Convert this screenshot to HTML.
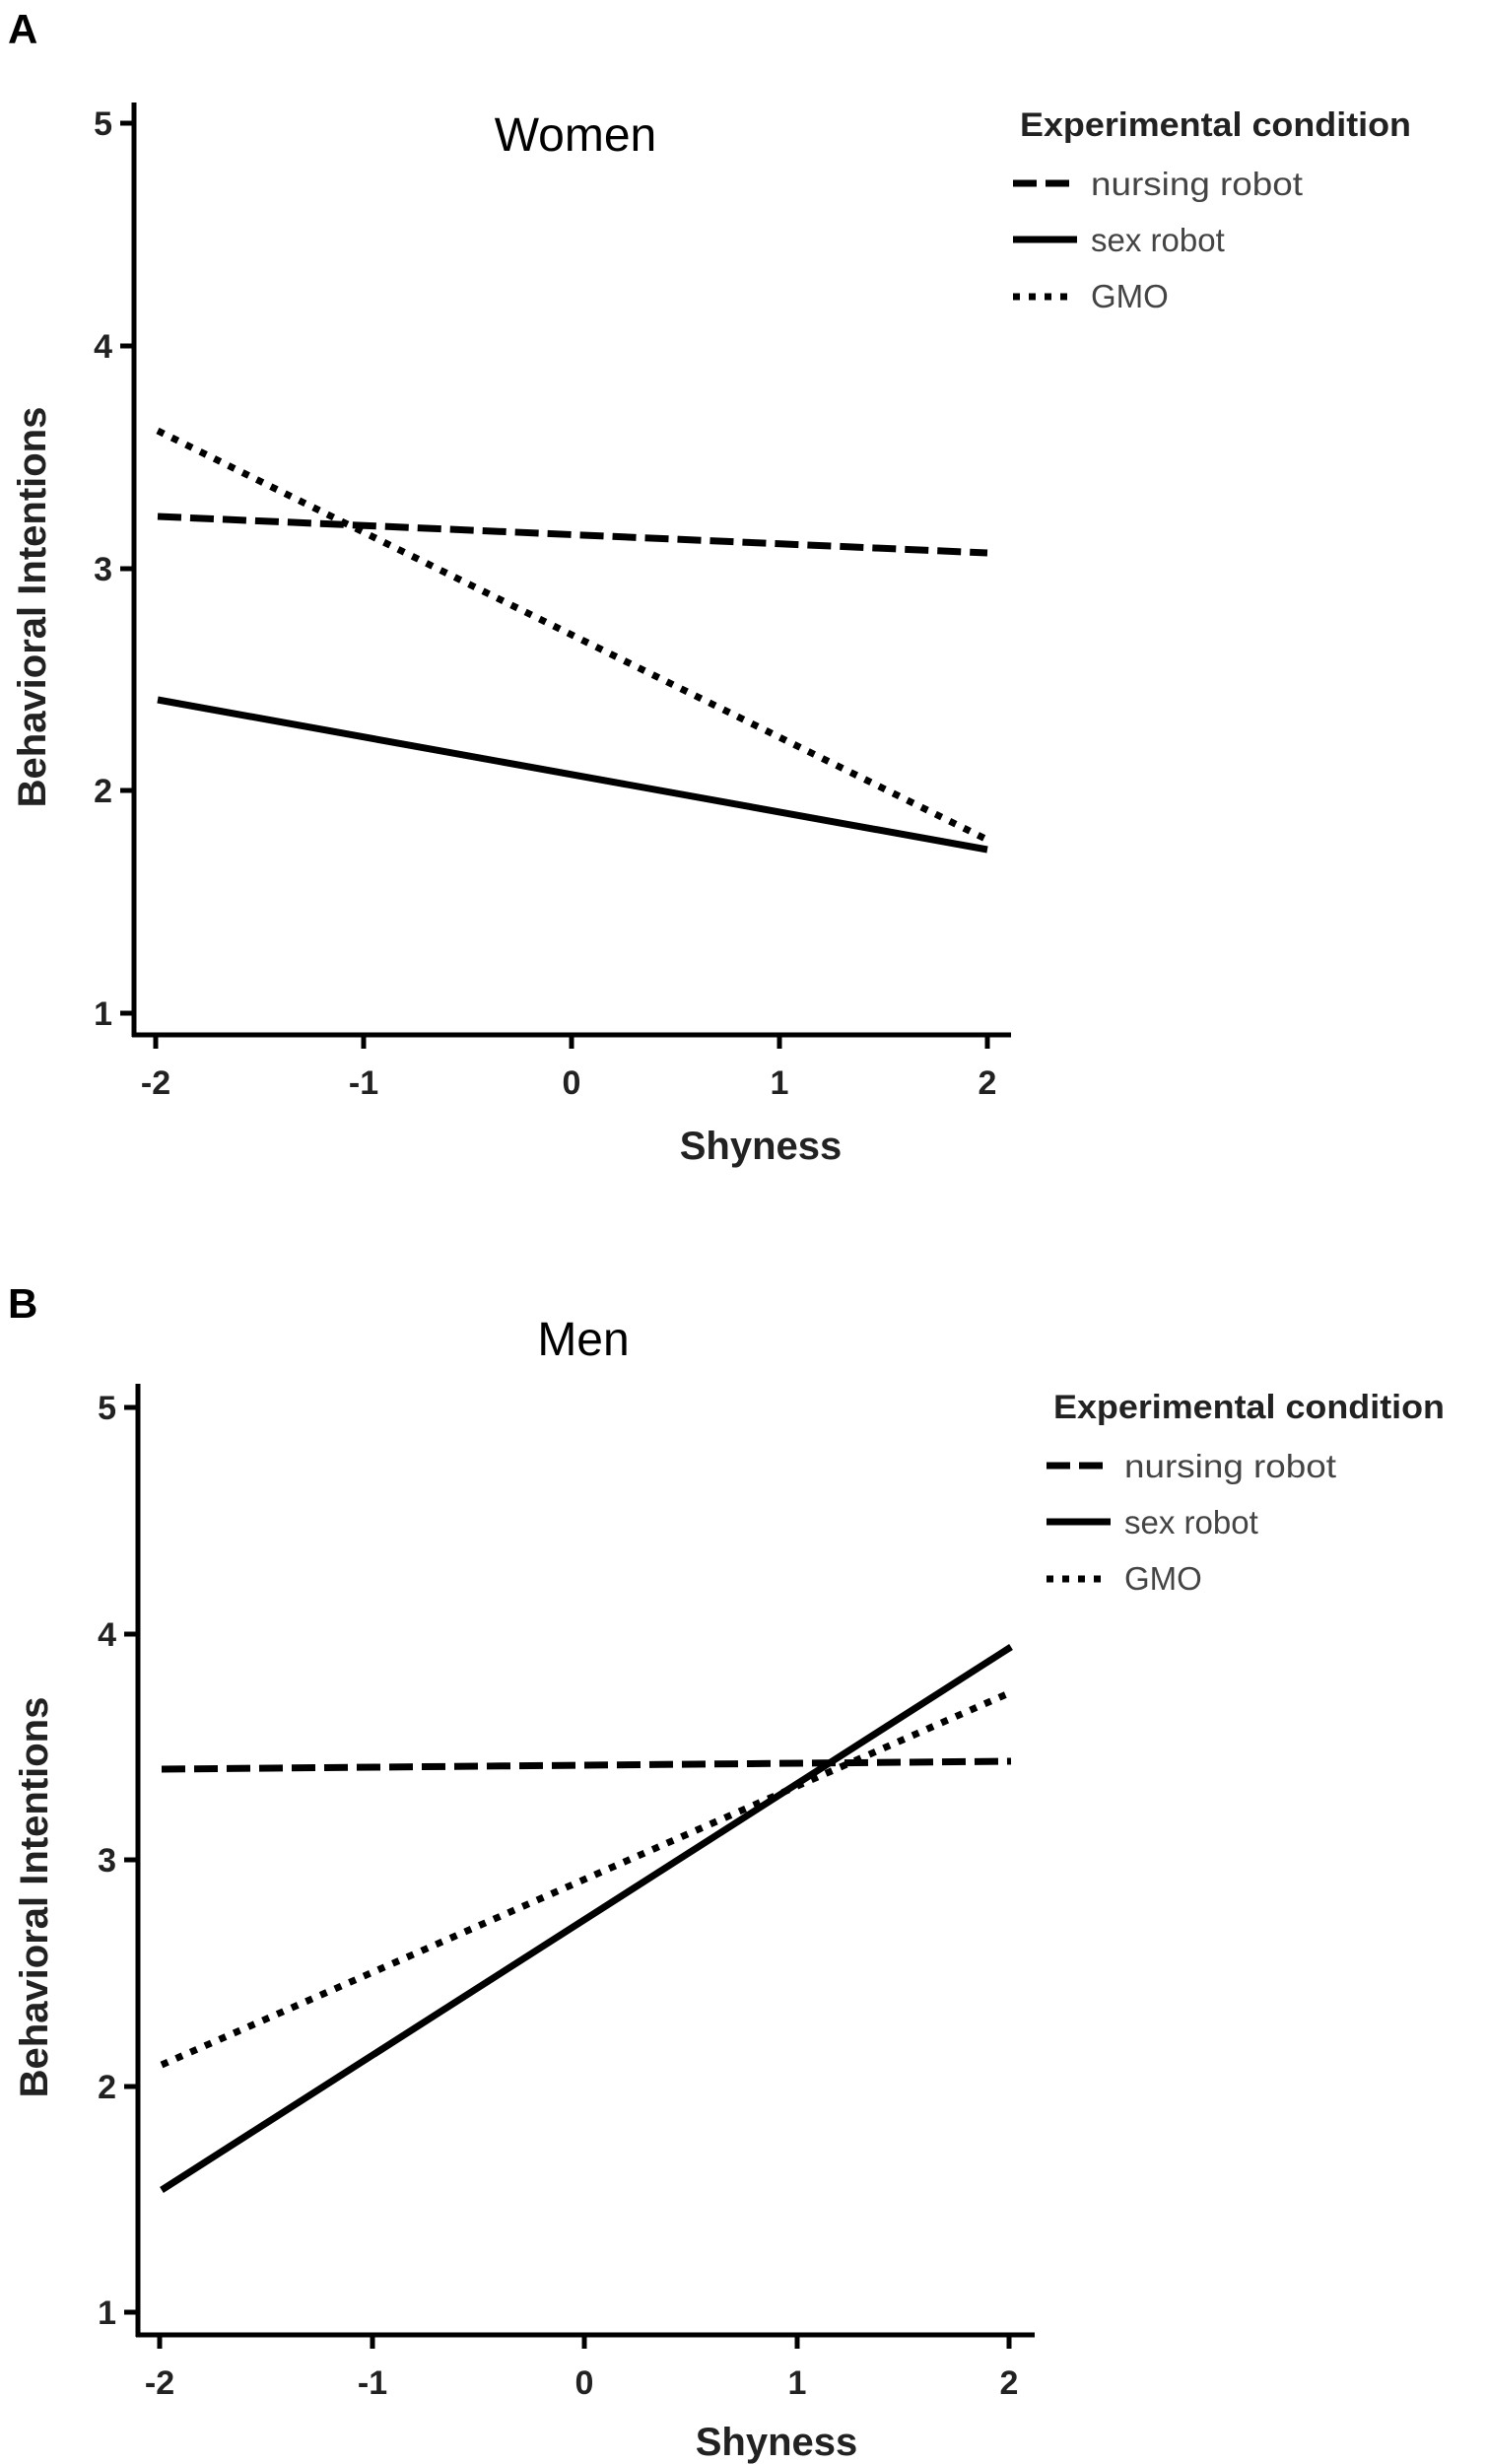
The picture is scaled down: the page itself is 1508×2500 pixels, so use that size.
<!DOCTYPE html>
<html><head><meta charset="utf-8"><style>
html,body{margin:0;padding:0;background:#fff;}
svg{display:block;}
text{font-family:"Liberation Sans",Arial,sans-serif;}
</style></head><body>
<svg width="1508" height="2500" viewBox="0 0 1508 2500" xmlns="http://www.w3.org/2000/svg">
<!-- Panel A -->
<text x="8" y="44" font-size="42" font-weight="bold">A</text>
<text x="584" y="153" font-size="48" text-anchor="middle">Women</text>
<g stroke="#000" stroke-width="5" fill="none">
<line x1="136" y1="104" x2="136" y2="1052"/>
<line x1="134" y1="1050" x2="1026" y2="1050"/>
<line x1="122" y1="125" x2="136" y2="125"/>
<line x1="122" y1="351" x2="136" y2="351"/>
<line x1="122" y1="577" x2="136" y2="577"/>
<line x1="122" y1="802" x2="136" y2="802"/>
<line x1="122" y1="1028" x2="136" y2="1028"/>
<line x1="158" y1="1050" x2="158" y2="1064"/>
<line x1="369" y1="1050" x2="369" y2="1064"/>
<line x1="580" y1="1050" x2="580" y2="1064"/>
<line x1="791" y1="1050" x2="791" y2="1064"/>
<line x1="1002" y1="1050" x2="1002" y2="1064"/>
</g>
<g font-size="34" font-weight="bold" text-anchor="end" fill="#222">
<text x="114" y="137">5</text><text x="114" y="363">4</text><text x="114" y="589">3</text><text x="114" y="814">2</text><text x="114" y="1040">1</text>
</g>
<g font-size="34" font-weight="bold" text-anchor="middle" fill="#222">
<text x="158" y="1110">-2</text><text x="369" y="1110">-1</text><text x="580" y="1110">0</text><text x="791" y="1110">1</text><text x="1002" y="1110">2</text>
</g>
<text x="772" y="1176" font-size="40" font-weight="bold" text-anchor="middle" fill="#222">Shyness</text>
<text transform="translate(46,616) rotate(-90)" font-size="40" font-weight="bold" text-anchor="middle" fill="#222">Behavioral Intentions</text>
<g stroke="#000" stroke-width="7" fill="none">
<line x1="160" y1="524" x2="1002" y2="561" stroke-dasharray="24 9"/>
<line x1="160" y1="710" x2="1002" y2="862"/>
<line x1="160" y1="437" x2="1002" y2="852" stroke-dasharray="7 9"/>
</g>
<text x="1035" y="138" font-size="34" font-weight="bold" fill="#222" textLength="397" lengthAdjust="spacingAndGlyphs">Experimental condition</text>
<g stroke="#000" stroke-width="7">
<line x1="1028" y1="186" x2="1088" y2="186" stroke-dasharray="24 9"/>
<line x1="1028" y1="243" x2="1093" y2="243"/>
<line x1="1028" y1="301" x2="1088" y2="301" stroke-dasharray="7 9"/>
</g>
<g font-size="33" fill="#444">
<text x="1107" y="198" textLength="215" lengthAdjust="spacingAndGlyphs">nursing robot</text>
<text x="1107" y="255">sex robot</text>
<text x="1107" y="312">GMO</text>
</g>

<!-- Panel B -->
<text x="8" y="1337" font-size="42" font-weight="bold">B</text>
<text x="592" y="1375" font-size="48" text-anchor="middle">Men</text>
<g stroke="#000" stroke-width="5" fill="none">
<line x1="140" y1="1404" x2="140" y2="2371"/>
<line x1="138" y1="2369" x2="1050" y2="2369"/>
<line x1="126" y1="1428" x2="140" y2="1428"/>
<line x1="126" y1="1658" x2="140" y2="1658"/>
<line x1="126" y1="1887" x2="140" y2="1887"/>
<line x1="126" y1="2117" x2="140" y2="2117"/>
<line x1="126" y1="2346" x2="140" y2="2346"/>
<line x1="162" y1="2369" x2="162" y2="2383"/>
<line x1="378" y1="2369" x2="378" y2="2383"/>
<line x1="593" y1="2369" x2="593" y2="2383"/>
<line x1="809" y1="2369" x2="809" y2="2383"/>
<line x1="1024" y1="2369" x2="1024" y2="2383"/>
</g>
<g font-size="34" font-weight="bold" text-anchor="end" fill="#222">
<text x="118" y="1440">5</text><text x="118" y="1670">4</text><text x="118" y="1899">3</text><text x="118" y="2129">2</text><text x="118" y="2358">1</text>
</g>
<g font-size="34" font-weight="bold" text-anchor="middle" fill="#222">
<text x="162" y="2429">-2</text><text x="378" y="2429">-1</text><text x="593" y="2429">0</text><text x="809" y="2429">1</text><text x="1024" y="2429">2</text>
</g>
<text x="788" y="2491" font-size="40" font-weight="bold" text-anchor="middle" fill="#222">Shyness</text>
<text transform="translate(48,1925) rotate(-90)" font-size="40" font-weight="bold" text-anchor="middle" fill="#222">Behavioral Intentions</text>
<g stroke="#000" stroke-width="7" fill="none">
<line x1="164" y1="1795" x2="1026" y2="1787" stroke-dasharray="24 9"/>
<line x1="164" y1="2222" x2="1026" y2="1671"/>
<line x1="164" y1="2095" x2="1026" y2="1717" stroke-dasharray="7 9"/>
</g>
<text x="1069" y="1439" font-size="34" font-weight="bold" fill="#222" textLength="397" lengthAdjust="spacingAndGlyphs">Experimental condition</text>
<g stroke="#000" stroke-width="7">
<line x1="1062" y1="1487" x2="1122" y2="1487" stroke-dasharray="24 9"/>
<line x1="1062" y1="1544" x2="1127" y2="1544"/>
<line x1="1062" y1="1602" x2="1122" y2="1602" stroke-dasharray="7 9"/>
</g>
<g font-size="33" fill="#444">
<text x="1141" y="1499" textLength="215" lengthAdjust="spacingAndGlyphs">nursing robot</text>
<text x="1141" y="1556">sex robot</text>
<text x="1141" y="1613">GMO</text>
</g>
</svg>
</body></html>
